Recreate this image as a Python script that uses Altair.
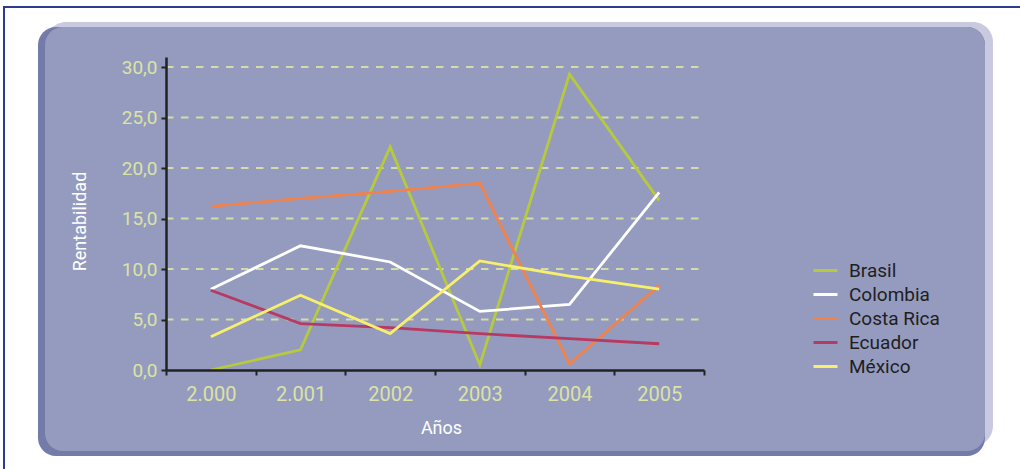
import altair as alt
import pandas as pd

# ---- data ----
years = ["2.000", "2.001", "2002", "2003", "2004", "2005"]
countries = ["Brasil", "Colombia", "Costa Rica", "Ecuador", "México"]
brasil = [0.0, 2.0, 22.1, 0.5, 29.3, 16.8]
colombia = [8.0, 12.3, 10.7, 5.8, 6.5, 17.6]
costa_rica = [16.2, 17.0, 17.7, 18.5, 0.6, 8.4]
ecuador = [7.9, 4.6, 4.2, 3.6, 3.1, 2.6]
mexico = [3.3, 7.4, 3.6, 10.8, 9.3, 8.0]
colors = ["#b7c93c", "#ffffff", "#f0824c", "#b63a62", "#f8f06c"]
grid_values = [5, 10, 15, 20, 25, 30]
y_ticks = [0, 5, 10, 15, 20, 25, 30]

series = [brasil, colombia, costa_rica, ecuador, mexico]
rows = []
for c, vals in zip(countries, series):
    for i, v in enumerate(vals):
        rows.append({"pais": c, "pos": i + 0.5, "anio": years[i], "valor": v})
df = pd.DataFrame(rows)

W, H = 538, 313
FONT = "Roboto"
LABEL_COL = "#dce3a4"

label_js = "[" + ",".join("'" + y + "'" for y in years) + "]"

one = alt.Data(values=[{"k": 1}])

def panel(x, x2, y, y2, color, radius):
    return alt.Chart(one).mark_rect(color=color, cornerRadius=radius).encode(
        x=alt.value(x), x2=alt.value(x2), y=alt.value(y), y2=alt.value(y2)
    )

border = alt.Chart(one).mark_rect(filled=False, stroke="#2e3a8f", strokeWidth=2).encode(
    x=alt.value(-162), x2=alt.value(880), y=alt.value(-50), y2=alt.value(440)
)
light = panel(-120, 827, -35, 389, "#c9cadf", 20)
dark = panel(-128, 819, -30, 399, "#737ba8", 18)
main = panel(-121, 819, -30, 394, "#959bbe", 18)

yscale = alt.Scale(domain=[0, 31], nice=False, zero=True)
xscale = alt.Scale(domain=[0, 6], nice=False, zero=False)

y_axis = alt.Axis(
    values=y_ticks,
    labelExpr="replace(format(datum.value, '.1f'), '.', ',')",
    labelFont=FONT, labelFontSize=19, labelColor=LABEL_COL,
    labelPadding=4, tickSize=5, tickColor="#222222", tickWidth=2,
    domainColor="#222222", domainWidth=2.5, grid=False,
    title="Rentabilidad", titleFont=FONT, titleFontSize=18,
    titleColor="white", titleFontWeight="normal",
    titleX=-86, titleY=164, titleAngle=270,
    titleBaseline="middle", titleAlign="center", zindex=1,
)

grid = alt.Chart(pd.DataFrame({"valor": grid_values})).mark_rule(
    color="#d6dca8", strokeWidth=2, strokeDash=[7.5, 7.5]
).encode(
    y=alt.Y("valor:Q", scale=yscale, axis=y_axis),
    x=alt.value(0), x2=alt.value(W),
)

lines = alt.Chart(df).mark_line(strokeWidth=2.8).encode(
    x=alt.X(
        "pos:Q", scale=xscale,
        axis=alt.Axis(
            values=list(range(7)),
            labelExpr=label_js + "[datum.value] || ''",
            labelOffset=W / 12, labelFlush=False, labelOverlap=False,
            labelFont=FONT, labelFontSize=20, labelColor=LABEL_COL,
            labelPadding=9, tickSize=5, tickColor="#222222", tickWidth=2,
            domainColor="#222222", domainWidth=2.5, grid=False,
            title="Años", titleFont=FONT, titleFontSize=18, titleColor="white",
            titleFontWeight="normal", titleX=275, titleY=58,
            titleBaseline="middle", titleAlign="center", zindex=1,
        ),
    ),
    y=alt.Y("valor:Q", scale=yscale, axis=y_axis),
    color=alt.Color(
        "pais:N",
        scale=alt.Scale(domain=countries, range=colors),
        sort=countries,
        legend=alt.Legend(
            orient="none", legendX=646, legendY=200, title=None,
            symbolType="stroke", symbolSize=576, symbolStrokeWidth=3,
            labelFont=FONT, labelFontSize=19, labelColor="#1e1e1e",
            labelOffset=10, rowPadding=0, padding=0,
        ),
    ),
    order=alt.Order("pos:Q"),
)

chart = alt.layer(border, light, dark, main, grid, lines).properties(
    width=W, height=H,
    autosize=alt.AutoSizeParams(type="none"),
    padding={"left": 166, "top": 57, "right": 316, "bottom": 99},
    background="white",
).configure_view(stroke=None)

chart.save("out.html", embed_options={"renderer": "svg", "actions": False})
